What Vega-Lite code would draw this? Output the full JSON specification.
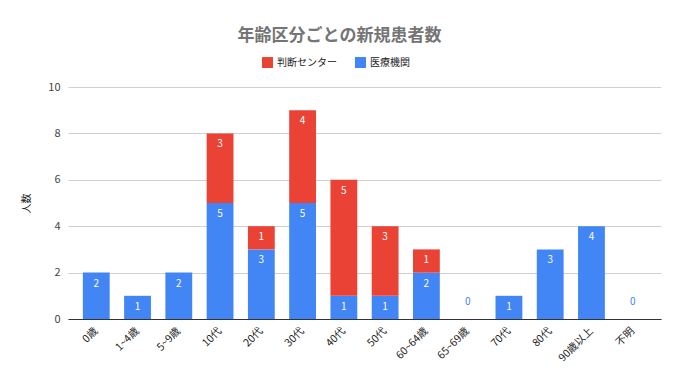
{
  "$schema": "https://vega.github.io/schema/vega-lite/v6.json",
  "autosize": {"type": "none"},
  "width": 593,
  "height": 232,
  "padding": {"left": 68, "top": 87, "right": 19, "bottom": 63},
  "background": "white",
  "title": {
    "text": "年齢区分ごとの新規患者数",
    "anchor": "middle",
    "dx": -25,
    "offset": 12,
    "font": "Noto Sans CJK JP",
    "fontSize": 17,
    "fontWeight": "bold",
    "color": "#757575"
  },
  "config": {
    "view": {"stroke": null},
    "font": "Noto Sans CJK JP"
  },
  "data": {
    "values": [
      {"age": "0歳", "series": "医療機関", "n": 2},
      {"age": "1~4歳", "series": "医療機関", "n": 1},
      {"age": "5~9歳", "series": "医療機関", "n": 2},
      {"age": "10代", "series": "医療機関", "n": 5},
      {"age": "10代", "series": "判断センター", "n": 3},
      {"age": "20代", "series": "医療機関", "n": 3},
      {"age": "20代", "series": "判断センター", "n": 1},
      {"age": "30代", "series": "医療機関", "n": 5},
      {"age": "30代", "series": "判断センター", "n": 4},
      {"age": "40代", "series": "医療機関", "n": 1},
      {"age": "40代", "series": "判断センター", "n": 5},
      {"age": "50代", "series": "医療機関", "n": 1},
      {"age": "50代", "series": "判断センター", "n": 3},
      {"age": "60~64歳", "series": "医療機関", "n": 2},
      {"age": "60~64歳", "series": "判断センター", "n": 1},
      {"age": "65~69歳", "series": "医療機関", "n": 0},
      {"age": "70代", "series": "医療機関", "n": 1},
      {"age": "80代", "series": "医療機関", "n": 3},
      {"age": "90歳以上", "series": "医療機関", "n": 4},
      {"age": "不明", "series": "医療機関", "n": 0}
    ]
  },
  "transform": [
    {"stack": "n", "groupby": ["age"], "sort": [{"field": "series", "order": "descending"}], "as": ["y0", "y1"]}
  ],
  "encoding": {
    "x": {
      "field": "age",
      "type": "nominal",
      "sort": ["0歳", "1~4歳", "5~9歳", "10代", "20代", "30代", "40代", "50代", "60~64歳", "65~69歳", "70代", "80代", "90歳以上", "不明"],
      "scale": {"paddingInner": 0.35, "paddingOuter": 0.36},
      "axis": {
        "title": null,
        "labelAngle": -45,
        "labelAlign": "right",
        "labelBaseline": "middle",
        "labelFontSize": 10.5,
        "labelColor": "#222",
        "labelPadding": 10,
        "ticks": false,
        "domainColor": "#333",
        "domainWidth": 1
      }
    }
  },
  "layer": [
    {
      "mark": {"type": "bar"},
      "encoding": {
        "y": {
          "field": "y1",
          "type": "quantitative",
          "scale": {"domain": [0, 10]},
          "axis": {
            "title": "人数",
            "titleFontSize": 10,
            "titleFontWeight": "normal",
            "titleColor": "#222",
            "titlePadding": 16,
            "values": [0, 2, 4, 6, 8, 10],
            "labelFontSize": 11,
            "labelColor": "#444",
            "labelPadding": 8,
            "ticks": false,
            "domain": false,
            "gridColor": "#d0d0d0"
          }
        },
        "y2": {"field": "y0"},
        "color": {
          "field": "series",
          "type": "nominal",
          "scale": {"domain": ["判断センター", "医療機関"], "range": ["#ea4335", "#4285f4"]},
          "legend": {
            "title": null,
            "orient": "none",
            "direction": "horizontal",
            "legendX": 194,
            "legendY": -30,
            "symbolType": "square",
            "symbolSize": 120,
            "symbolStrokeWidth": 0,
            "labelFontSize": 10,
            "labelColor": "#222",
            "columnPadding": 18
          }
        }
      }
    },
    {
      "transform": [{"filter": "datum.n > 0"}],
      "mark": {"type": "text", "dy": 11, "color": "white", "fontSize": 10},
      "encoding": {
        "y": {"field": "y1", "type": "quantitative"},
        "text": {"field": "n", "type": "quantitative"}
      }
    },
    {
      "transform": [{"filter": "datum.n == 0"}],
      "mark": {"type": "text", "dy": -17, "color": "#4285f4", "fontSize": 10},
      "encoding": {
        "y": {"field": "y1", "type": "quantitative"},
        "text": {"field": "n", "type": "quantitative"}
      }
    }
  ]
}
